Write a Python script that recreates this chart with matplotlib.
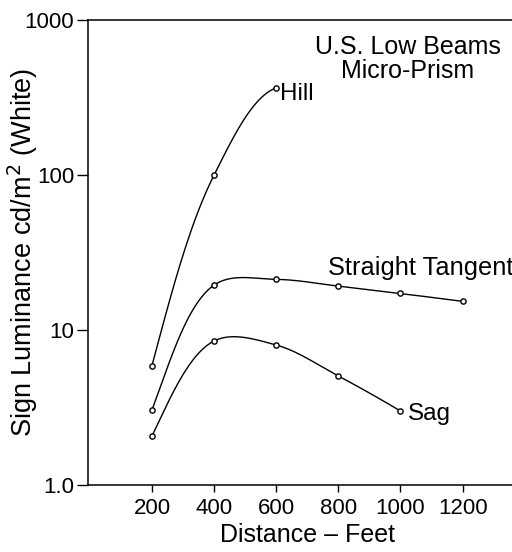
import numpy as np
import matplotlib
matplotlib.use("Agg")
import matplotlib.pyplot as plt

plt.rcParams['font.family'] = ['Liberation Sans', 'DejaVu Sans']

# Data
distance_hill = [200, 400, 600]
hill = [5.9, 100, 365]
distance_tangent = [200, 400, 600, 800, 1000, 1200]
tangent = [3.05, 19.5, 21.2, 19.2, 17.2, 15.3]
distance_sag = [200, 400, 600, 800, 1000]
sag = [2.07, 8.5, 8.0, 5.05, 3.0]

x_ticks = [200, 400, 600, 800, 1000, 1200]
y_ticks = [1, 10, 100, 1000]
y_ticklabels = ["1.0", "10", "100", "1000"]


def catmull_rom(x, y, sx=0.31, sy=155.0, n=40, alpha=0.5):
    """Centripetal Catmull-Rom through (x, log10 y), computed in a scaled space."""
    P = np.column_stack([np.asarray(x, float) * sx, np.log10(y) * sy])
    first = 3 * P[0] - 3 * P[1] + P[2]
    last = 3 * P[-1] - 3 * P[-2] + P[-3]
    P = np.vstack([first, P, last])
    out = []
    for i in range(1, len(P) - 2):
        p0, p1, p2, p3 = P[i - 1], P[i], P[i + 1], P[i + 2]
        t0 = 0.0
        t1 = t0 + np.linalg.norm(p1 - p0) ** alpha
        t2 = t1 + np.linalg.norm(p2 - p1) ** alpha
        t3 = t2 + np.linalg.norm(p3 - p2) ** alpha
        t = np.linspace(t1, t2, n)[:, None]
        a1 = (t1 - t) / (t1 - t0) * p0 + (t - t0) / (t1 - t0) * p1
        a2 = (t2 - t) / (t2 - t1) * p1 + (t - t1) / (t2 - t1) * p2
        a3 = (t3 - t) / (t3 - t2) * p2 + (t - t2) / (t3 - t2) * p3
        b1 = (t2 - t) / (t2 - t0) * a1 + (t - t0) / (t2 - t0) * a2
        b2 = (t3 - t) / (t3 - t1) * a2 + (t - t1) / (t3 - t1) * a3
        c = (t2 - t) / (t2 - t1) * b1 + (t - t1) / (t2 - t1) * b2
        out.append(c)
    C = np.vstack(out)
    return C[:, 0] / sx, 10 ** (C[:, 1] / sy)


fig = plt.figure(figsize=(5.12, 5.52), dpi=100)
ax = fig.add_axes([88 / 512, (552 - 485) / 552, 1 - 88 / 512, (485 - 20) / 552])

for xd, yd in [(distance_hill, hill), (distance_tangent, tangent), (distance_sag, sag)]:
    xs, ys = catmull_rom(xd, yd)
    ax.plot(xs, ys, color='black', lw=1.0)
    ax.plot(xd, yd, 'o', ms=3.8, mfc='white', mec='black', mew=1.0)

ax.set_yscale('log')
ax.set_ylim(1, 1000)
ax.set_xlim(-6, 1359)
ax.set_yticks(y_ticks)
ax.set_yticklabels(y_ticklabels)
ax.yaxis.set_minor_locator(matplotlib.ticker.NullLocator())
ax.set_xticks(x_ticks)
ax.set_xticklabels([str(v) for v in x_ticks])
ax.tick_params(axis='y', direction='out', length=8, width=1.0, labelsize=16, pad=2)
ax.tick_params(axis='x', direction='out', length=5, width=1.0, labelsize=16, pad=4)
ax.spines['right'].set_visible(False)
for s in ['left', 'top', 'bottom']:
    ax.spines[s].set_linewidth(1.1)

fig.text(307 / 512, 1 - 542 / 552, "Distance – Feet", ha='center', va='baseline', fontsize=18)
fig.text(23 / 512, 1 - 252 / 552, "Sign Luminance cd/m$^2$ (White)", ha='center', va='center',
         rotation=90, fontsize=19.5)

ax.text(1024, 604, "U.S. Low Beams", ha='center', va='baseline', fontsize=18)
ax.text(1024, 422, "Micro-Prism", ha='center', va='baseline', fontsize=18)
ax.text(612, 305, "Hill", ha='left', va='baseline', fontsize=17.5)
ax.text(766, 22.6, "Straight Tangent", ha='left', va='baseline', fontsize=18.3, clip_on=False)
ax.text(1024, 2.63, "Sag", ha='left', va='baseline', fontsize=17.5)

fig.savefig("out.png", dpi=100)
